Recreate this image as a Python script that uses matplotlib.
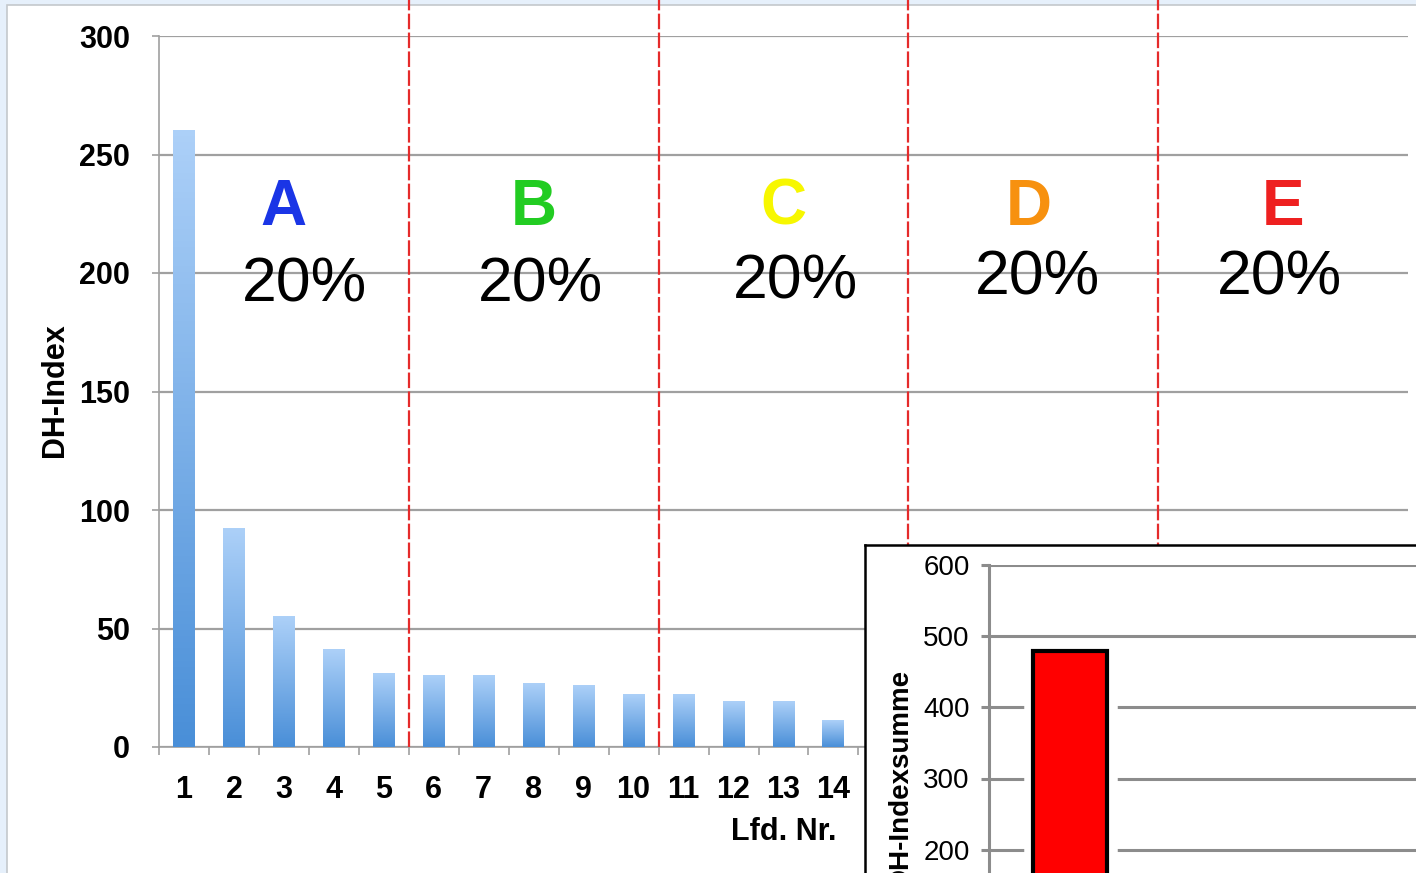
import numpy as np
import matplotlib
matplotlib.use('Agg')
import matplotlib.pyplot as plt
from matplotlib.patches import Rectangle
from matplotlib.colors import LinearSegmentedColormap

plt.rcParams['font.family'] = ['Liberation Sans', 'DejaVu Sans']

# Daten
lfd_nr = list(range(1, 26))
dh_index = [260, 92, 55, 41, 31, 30, 30, 27, 26, 22, 22, 19, 19, 11,
            10, 9, 8, 7, 6, 5, 4, 4, 3, 2, 1]
klassen = ['A', 'B', 'C', 'D', 'E']
klassen_farben = ['#1a35e6', '#22cc22', '#f7f700', '#f7910f', '#ee2020']
klassen_anteil = ['20%', '20%', '20%', '20%', '20%']
klassen_grenzen = [5.5, 10.5, 15.5, 20.5]
summe = [479, 136, 89, 39, 12]

W, H = 1416, 873
fig = plt.figure(figsize=(W / 100, H / 100), dpi=100)
fig.patch.set_facecolor('#e6f0fb')
fig.patches.append(Rectangle((7 / W, -0.1), 1.1, 1.1 - 5 / H, transform=fig.transFigure,
                             facecolor='white', edgecolor='#c4c8cc', lw=1.2, zorder=-10))

# Hauptdiagramm
ax = fig.add_axes([159 / W, 1 - 747 / H, (1408 - 159) / W, (747 - 36) / H])
ax.set_facecolor('none')
cmap = LinearSegmentedColormap.from_list('blau', ['#4a8fd8', '#acd0f8'])
grad = np.linspace(0, 1, 100).reshape(-1, 1)
bars = ax.bar(lfd_nr, dh_index, width=0.44, color='none', zorder=3)
for b in bars:
    x0 = b.get_x()
    ax.imshow(grad, extent=[x0, x0 + b.get_width(), 0, b.get_height()], origin='lower',
              aspect='auto', cmap=cmap, zorder=3)
ax.set_xlim(0.5, 25.5)
ax.set_ylim(0, 300)
ax.set_yticks([0, 50, 100, 150, 200, 250, 300])
ax.set_xticks(lfd_nr)
ax.set_xticks(np.arange(0.5, 26, 1), minor=True)
ax.yaxis.grid(True, color='#a0a0a0', lw=1.6)
ax.set_axisbelow(True)
for s in ['top', 'right']:
    ax.spines[s].set_visible(False)
for s in ['left', 'bottom']:
    ax.spines[s].set_color('#a0a0a0')
    ax.spines[s].set_linewidth(1.2)
ax.tick_params(axis='y', length=5, color='#a0a0a0', width=1.2, pad=16, labelsize=22)
ax.tick_params(axis='x', which='major', length=0, pad=20, labelsize=22)
ax.tick_params(axis='x', which='minor', length=6, color='#a0a0a0', width=1.2)
for lab in ax.get_xticklabels() + ax.get_yticklabels():
    lab.set_fontweight('bold')

for g in klassen_grenzen:
    ax.axvline(g, ymin=0, ymax=1.06, color='#e52b2b', lw=1.6, dashes=(7, 1.5),
               clip_on=False, zorder=4)

buchst_x = [3.0, 8.0, 13.0, 17.9, 23.0]
anteil_x = [3.42, 8.14, 13.24, 18.08, 22.92]
anteil_y = [195, 195, 196, 198, 198]
for i, k in enumerate(klassen):
    ax.text(buchst_x[i], 227.5, k, color=klassen_farben[i], fontsize=46, fontweight='bold',
            ha='center', va='center', zorder=5)
    ax.text(anteil_x[i], anteil_y[i], klassen_anteil[i], color='black', fontsize=45,
            ha='center', va='center', zorder=5)

fig.text(55 / W, 1 - 390 / H, 'DH-Index', rotation=90, ha='center', va='center',
         fontsize=22, fontweight='bold')
fig.text(836 / W, 1 - 832 / H, 'Lfd. Nr.', ha='right', va='center',
         fontsize=22, fontweight='bold')

# Eingefügtes Diagramm (Summen)
ax_bg = fig.add_axes([865 / W, -0.2, 0.5, 0.2 + 1 - 545 / H])
ax_bg.set_xticks([])
ax_bg.set_yticks([])
ax_bg.set_facecolor('white')
for s in ax_bg.spines.values():
    s.set_color('black')
    s.set_linewidth(1.8)
ax_bg.set_zorder(10)

ax2 = fig.add_axes([989 / W, 1 - 992 / H, (1799 - 989) / W, (992 - 565) / H])
ax2.set_zorder(11)
ax2.set_facecolor('none')
xk = np.arange(len(klassen))
ax2.bar(xk, summe, width=0.5, color='none', edgecolor='white', lw=9, zorder=3)
ax2.bar(xk, summe, width=0.46, color='#ff0000', edgecolor='black', lw=3, zorder=4)
ax2.set_xlim(-0.5, 4.5)
ax2.set_ylim(0, 600)
ax2.set_yticks([0, 100, 200, 300, 400, 500, 600])
ax2.set_xticks([])
ax2.yaxis.grid(True, color='#8c8c8c', lw=2.2)
ax2.set_axisbelow(True)
for s in ['top', 'right', 'bottom']:
    ax2.spines[s].set_visible(False)
ax2.spines['left'].set_color('#8c8c8c')
ax2.spines['left'].set_linewidth(2.2)
ax2.tick_params(axis='y', length=6, color='#8c8c8c', width=2.2, pad=8, labelsize=20)
fig.text(900 / W, 1 - 778 / H, 'DH-Indexsumme', rotation=90, ha='center', va='center',
         fontsize=20, fontweight='bold', zorder=12)

fig.savefig('out.png', dpi=100)
